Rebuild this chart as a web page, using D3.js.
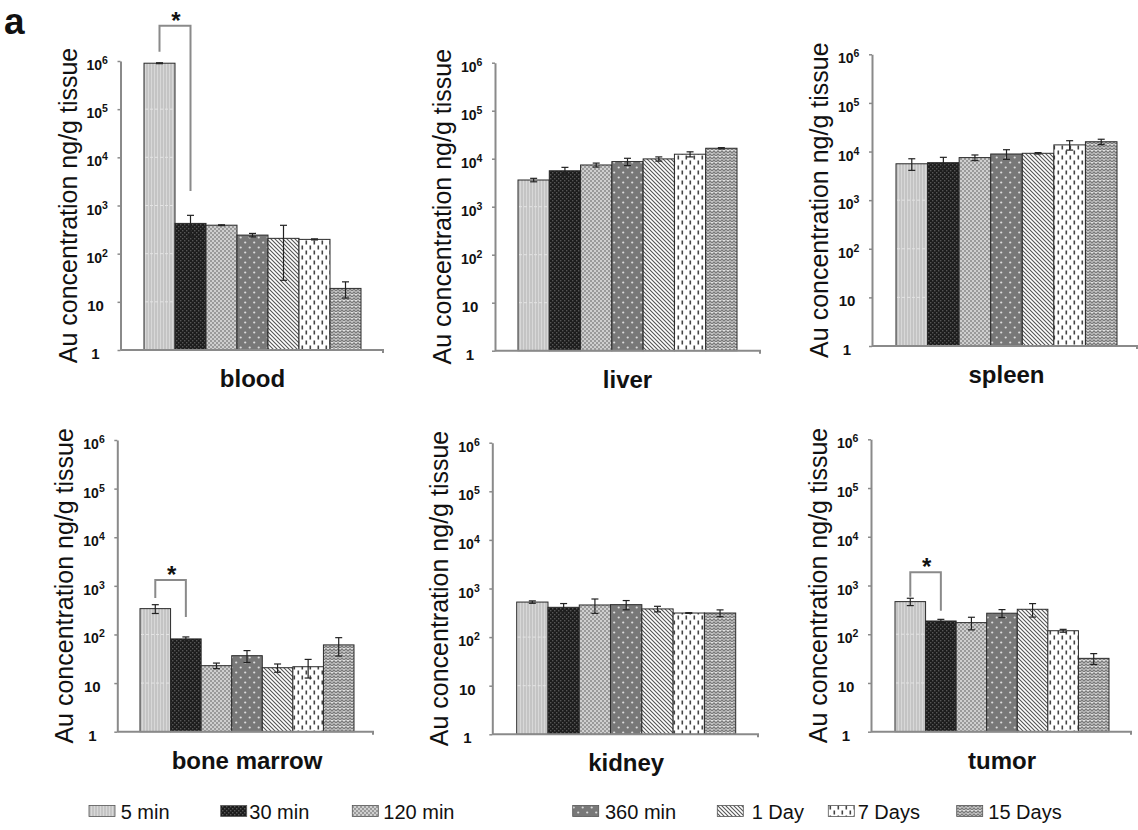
<!DOCTYPE html>
<html>
<head>
<meta charset="utf-8">
<script src="https://cdn.jsdelivr.net/npm/d3@7"></script>
<style>
  html, body { margin: 0; padding: 0; background: #fff; }
  svg { display: block; font-family: "Liberation Sans", Arial, sans-serif; }
</style>
</head>
<body>
<svg id="chart" width="1138" height="830"></svg>
<script>
// ---------------- DATA ----------------
const categories = ["5 min", "30 min", "120 min", "360 min", "1 Day", "7 Days", "15 Days"];
const organs = ["blood", "liver", "spleen", "bone marrow", "kidney", "tumor"];

const bloodValues  = [900000, 425, 390, 243, 208, 198, 19];
const bloodErrors  = [20000, 200, 8, 20, 180, 5, 7];
const liverValues  = [3600, 5600, 7400, 8700, 9900, 12400, 16500];
const liverErrors  = [300, 1000, 700, 1500, 1000, 1500, 500];
const spleenValues = [5600, 5900, 7500, 8900, 9200, 13700, 15900];
const spleenErrors = [1500, 1700, 1000, 2000, 300, 3000, 2000];
const marrowValues = [340, 81, 22.8, 36.6, 20.7, 21.7, 61];
const marrowErrors = [70, 8, 3, 10, 4, 9, 25];
const kidneyValues = [526, 410, 458, 465, 380, 313, 313];
const kidneyErrors = [30, 80, 150, 100, 50, 5, 50];
const tumorValues  = [467, 187, 173, 270, 325, 118, 32];
const tumorErrors  = [80, 15, 50, 50, 100, 8, 8];

const tickValues = [1, 10, 100, 1000, 10000, 100000, 1000000];
const tickLabels = [["1", ""], ["10", ""], ["10", "2"], ["10", "3"], ["10", "4"], ["10", "5"], ["10", "6"]];

const yLabel = "Au concentration ng/g tissue";
const panelLetter = "a";

// significance brackets (in data units): bracket top, left/right leg ends
const sigPanels = ["blood", "bone marrow", "tumor"];
const sigTop    = [5.4e6, 1320, 1870];
const sigLeft   = [1.55e6, 562, 590];
const sigRight  = [2000, 229, 303];

const seriesValues = [bloodValues, liverValues, spleenValues, marrowValues, kidneyValues, tumorValues];
const seriesErrors = [bloodErrors, liverErrors, spleenErrors, marrowErrors, kidneyErrors, tumorErrors];

// ---------------- LAYOUT ----------------
const layout = [
  {axisX: 120.5, top: 61,    bottom: 350,   b0: 144,   b1: 361,   end: 383},
  {axisX: 495,   top: 62.7,  bottom: 350.7, b0: 518,   b1: 737,   end: 760},
  {axisX: 872,   top: 54.3,  bottom: 346,   b0: 896,   b1: 1117,  end: 1137},
  {axisX: 117.3, top: 440,   bottom: 731.7, b0: 140,   b1: 354,   end: 373},
  {axisX: 492.3, top: 442.7, bottom: 734.3, b0: 516.7, b1: 735.7, end: 758},
  {axisX: 871,   top: 439.3, bottom: 731.7, b0: 895,   b1: 1109,  end: 1131}
];
const legendSwatchX = [89, 220.7, 352.3, 572.7, 717.3, 828.3, 956.7];
const legendTextX   = [120.7, 249.3, 383.3, 605, 751.7, 857.7, 988.3];

const svg = d3.select("#chart");
const defs = svg.append("defs");

// ---------------- PATTERNS ----------------
function pat(id, w, h) {
  return defs.append("pattern").attr("id", id).attr("patternUnits", "userSpaceOnUse")
    .attr("width", w).attr("height", h);
}
// 5 min: light gray with fine vertical lines
let p = pat("p0", 3, 3);
p.append("rect").attr("width", 3).attr("height", 3).attr("fill", "#c4c4c4");
p.append("rect").attr("x", 1).attr("width", 1).attr("height", 3).attr("fill", "#d8d8d8");
// 30 min: black with grey dots
p = pat("p1", 4, 4);
p.append("rect").attr("width", 4).attr("height", 4).attr("fill", "#1c1c1c");
p.append("rect").attr("x", 0).attr("y", 0).attr("width", 1.4).attr("height", 1.4).attr("fill", "#555");
p.append("rect").attr("x", 2).attr("y", 2).attr("width", 1.4).attr("height", 1.4).attr("fill", "#555");
// 120 min: fine gray checker
p = pat("p2", 4, 4);
p.append("rect").attr("width", 4).attr("height", 4).attr("fill", "#9a9a9a");
p.append("rect").attr("x", 0).attr("y", 0).attr("width", 2).attr("height", 2).attr("fill", "#cfcfcf");
p.append("rect").attr("x", 2).attr("y", 2).attr("width", 2).attr("height", 2).attr("fill", "#cfcfcf");
// 360 min: dark grey with white dots
p = pat("p3", 9, 10);
p.append("rect").attr("width", 9).attr("height", 10).attr("fill", "#787878");
p.append("circle").attr("cx", 2.2).attr("cy", 2.5).attr("r", 1.1).attr("fill", "#dcdcdc");
p.append("circle").attr("cx", 6.7).attr("cy", 7.5).attr("r", 1.1).attr("fill", "#dcdcdc");
// 1 Day: diagonal lines
p = pat("p4", 4, 4);
p.append("rect").attr("width", 4).attr("height", 4).attr("fill", "#fff");
p.append("path").attr("d", "M-1,-1 L5,5 M-1,3 L1,5 M3,-1 L5,1").attr("stroke", "#555").attr("stroke-width", 1.1);
// 7 Days: white with vertical dashes
p = pat("p5", 8, 10);
p.append("rect").attr("width", 8).attr("height", 10).attr("fill", "#fff");
p.append("rect").attr("x", 1.5).attr("y", 0.5).attr("width", 1.6).attr("height", 4).attr("fill", "#444");
p.append("rect").attr("x", 5.5).attr("y", 5.5).attr("width", 1.6).attr("height", 4).attr("fill", "#444");
// 15 Days: herringbone zigzag
p = pat("p6", 8, 6);
p.append("rect").attr("width", 8).attr("height", 6).attr("fill", "#e2e2e2");
p.append("path").attr("d", "M0,3 L2,1 L4,3 L6,1 L8,3 M0,6 L2,4 L4,6 L6,4 L8,6").attr("stroke", "#7a7a7a").attr("stroke-width", 1.4).attr("fill", "none");

const fills = categories.map((c, i) => `url(#p${i})`);

// ---------------- PANELS ----------------
const axisColor = "#8a8a8a";

organs.forEach((organ, pi) => {
  const L = layout[pi];
  const g = svg.append("g");
  const y = d3.scaleLog().domain([1, 1e6]).range([L.bottom, L.top]);
  const x = d3.scaleBand().domain(categories).range([L.b0, L.b1]).padding(0);
  const vals = seriesValues[pi], errs = seriesErrors[pi];
  const data = categories.map((c, i) => ({c, v: vals[i], e: errs[i], i}));

  // bars
  g.selectAll("rect.bar").data(data).join("rect")
    .attr("class", "bar")
    .attr("x", d => x(d.c))
    .attr("y", d => y(d.v))
    .attr("width", x.bandwidth())
    .attr("height", d => y(1) - y(d.v))
    .attr("fill", d => fills[d.i])
    .attr("stroke", "#2a2a2a")
    .attr("stroke-width", 1);

  // faint dashed gridlines visible inside the first bar
  const first = data[0];
  g.selectAll("line.grid").data(tickValues.filter(t => t > 1 && t < first.v)).join("line")
    .attr("x1", x(first.c) + 1).attr("x2", x(first.c) + x.bandwidth() - 1)
    .attr("y1", d => y(d)).attr("y2", d => y(d))
    .attr("stroke", "#e4e4e4").attr("stroke-width", 1).attr("stroke-dasharray", "3,2");

  // error bars
  const eb = g.selectAll("g.err").data(data).join("g").attr("class", "err");
  const cx = d => x(d.c) + x.bandwidth() / 2;
  eb.append("line")
    .attr("x1", cx).attr("x2", cx)
    .attr("y1", d => y(d.v + d.e)).attr("y2", d => y(Math.max(d.v - d.e, 1.01)))
    .attr("stroke", "#222").attr("stroke-width", 1.2);
  [1, -1].forEach(s => {
    eb.append("line")
      .attr("x1", d => cx(d) - 3.5).attr("x2", d => cx(d) + 3.5)
      .attr("y1", d => y(Math.max(d.v + s * d.e, 1.01))).attr("y2", d => y(Math.max(d.v + s * d.e, 1.01)))
      .attr("stroke", "#222").attr("stroke-width", 1.2);
  });

  // y axis
  const ax = g.append("g").attr("transform", `translate(${L.axisX},0)`)
    .call(d3.axisLeft(y).tickValues(tickValues).tickSize(3).tickSizeOuter(0).tickFormat(""));
  ax.select(".domain").attr("stroke", axisColor).attr("stroke-width", 2);
  ax.selectAll(".tick line").attr("stroke", axisColor).attr("stroke-width", 1.5);

  // tick labels
  tickValues.forEach((t, ti) => {
    const [base, sup] = tickLabels[ti];
    const ty = y(t) + 9;
    if (sup === "") {
      g.append("text").attr("x", L.axisX - 25).attr("y", ty)
        .attr("text-anchor", "middle").attr("font-size", 15).attr("font-weight", "bold")
        .attr("fill", "#111").text(base);
    } else {
      const tx = g.append("text").attr("x", L.axisX - 34).attr("y", ty)
        .attr("font-size", 14).attr("font-weight", "bold").attr("fill", "#111");
      tx.append("tspan").text(base);
      tx.append("tspan").attr("dy", -6).attr("font-size", 10.5).text(sup);
    }
  });

  // x axis line with end tick
  g.append("path")
    .attr("d", `M${L.axisX},${y(1)} H${L.end} v3`)
    .attr("fill", "none").attr("stroke", axisColor).attr("stroke-width", 2);

  // y label
  const cy = (L.top + L.bottom) / 2;
  g.append("text")
    .attr("transform", `translate(${L.axisX - 44},${cy}) rotate(-90)`)
    .attr("text-anchor", "middle").attr("font-size", 25).attr("fill", "#111")
    .text(yLabel);

  // title
  g.append("text")
    .attr("x", (L.b0 + L.b1) / 2).attr("y", L.bottom + 37)
    .attr("text-anchor", "middle").attr("font-size", 24).attr("font-weight", "bold").attr("fill", "#111")
    .text(organ);

  // significance bracket
  const si = sigPanels.indexOf(organ);
  if (si >= 0) {
    const xa = x(categories[0]) + x.bandwidth() / 2;
    const xb = x(categories[1]) + x.bandwidth() / 2;
    g.append("path")
      .attr("d", `M${xa},${y(sigLeft[si])} V${y(sigTop[si])} H${xb} V${y(sigRight[si])}`)
      .attr("fill", "none").attr("stroke", axisColor).attr("stroke-width", 2);
    g.append("text")
      .attr("x", (xa + xb) / 2 + 1).attr("y", y(sigTop[si]) + 3)
      .attr("text-anchor", "middle").attr("font-size", 24).attr("font-weight", "bold").attr("fill", "#111")
      .text("*");
  }
});

// panel letter
svg.append("text").attr("x", 4).attr("y", 34).attr("font-size", 37).attr("font-weight", "bold")
  .attr("fill", "#111").text(panelLetter);

// ---------------- LEGEND ----------------
const leg = svg.append("g");
categories.forEach((c, i) => {
  leg.append("rect").attr("x", legendSwatchX[i]).attr("y", 805.5).attr("width", 26).attr("height", 11)
    .attr("fill", fills[i]).attr("stroke", "#555").attr("stroke-width", 0.8);
  leg.append("text").attr("x", legendTextX[i]).attr("y", 819).attr("font-size", 20).attr("fill", "#111").text(c);
});
</script>
</body>
</html>
